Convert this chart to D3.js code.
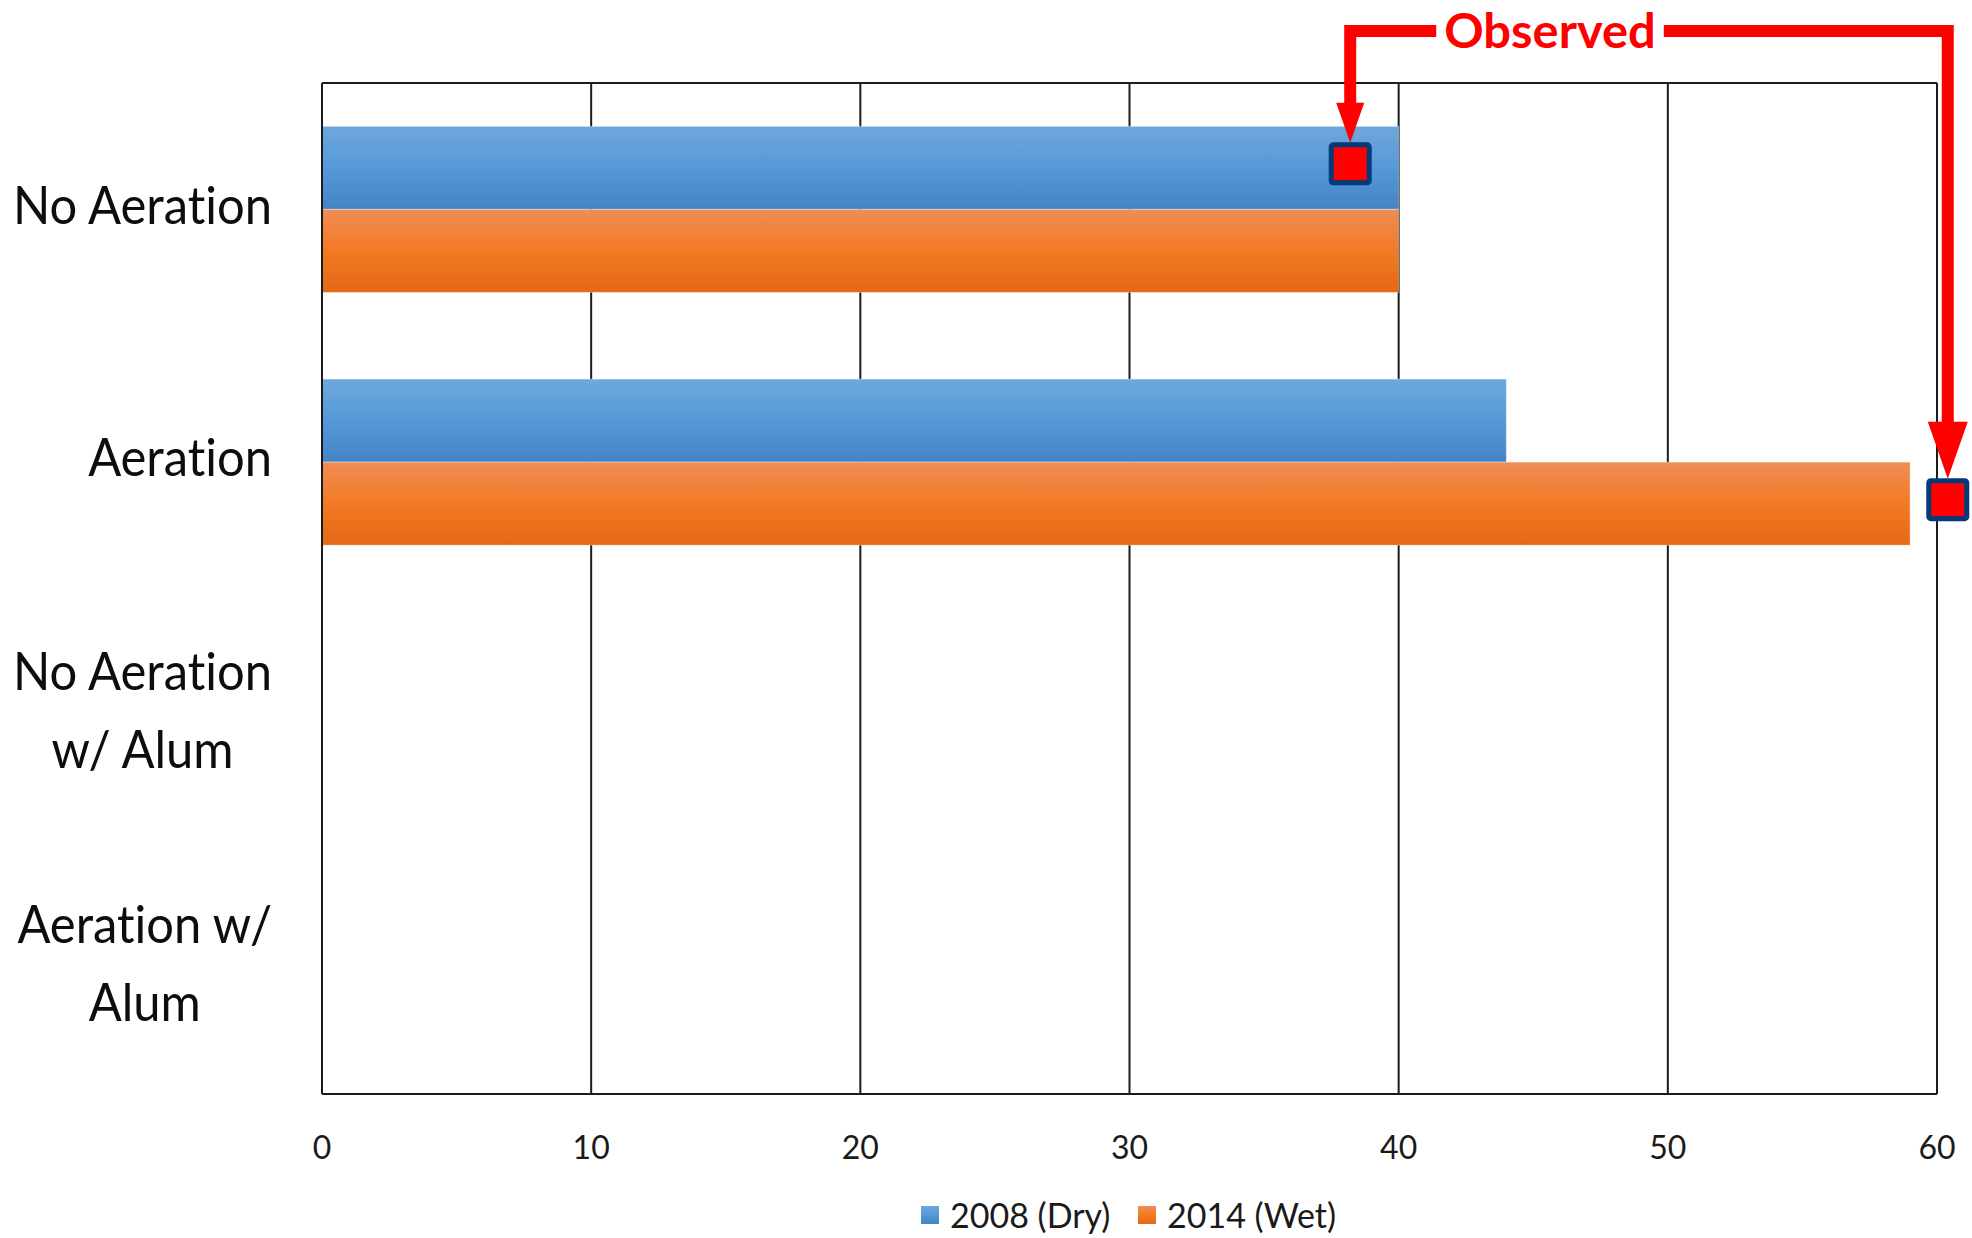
<!DOCTYPE html>
<html>
	<head>
		<meta charset="utf-8" />
		<title>Observed vs 2008 / 2014</title>
		<script src="https://cdn.jsdelivr.net/npm/d3@7"></script>
		<style>
			body {
				margin: 0;
				background: #fff;
			}
			svg {
				display: block;
				font-family: 'Lato', 'Open Sans', sans-serif;
				font-variant-ligatures: none;
			}
			.grid line {
				stroke: #1c1c1c;
				stroke-width: 2px;
			}
			.cat-label {
				font-size: 52px;
				fill: #0d0d0d;
			}
			.tick-label {
				font-size: 32px;
				fill: #1a1a1a;
			}
			.legend-label {
				font-size: 34px;
				fill: #1a1a1a;
			}
			.observed-label {
				font-size: 47px;
				font-weight: bold;
				fill: #ff0000;
			}
		</style>
	</head>
	<body>
		<svg id="chart"></svg>

		<script>
			// data
			const categories = ['No Aeration', 'Aeration', 'No Aeration w/ Alum', 'Aeration w/ Alum'];
			const categoryLines = [['No Aeration'], ['Aeration'], ['No Aeration', 'w/ Alum'], ['Aeration w/', 'Alum']];
			const series = ['2008 (Dry)', '2014 (Wet)'];
			const dry2008 = [40, 44, null, null];
			const wet2014 = [40, 59, null, null];
			const xTicks = [0, 10, 20, 30, 40, 50, 60];
			const observedCategory = ['No Aeration', 'Aeration'];
			const observedSeries = ['2008 (Dry)', '2014 (Wet)'];
			const observedValue = [38.2, 60.4];

			const width = 1972;
			const height = 1238;
			const plot = { left: 322, right: 1937, top: 83, bottom: 1094 };

			const svg = d3.select('#chart').attr('width', width).attr('height', height);

			const x = d3.scaleLinear().domain([0, 60]).range([plot.left, plot.right]);
			const y = d3
				.scaleBand()
				.domain(categories)
				.range([plot.top, plot.bottom])
				.paddingInner(0.343)
				.paddingOuter(0.1715);
			const ySub = d3.scaleBand().domain(series).range([0, y.bandwidth()]);

			const seriesValues = { '2008 (Dry)': dry2008, '2014 (Wet)': wet2014 };
			const gradients = {
				'2008 (Dry)': ['#6fa7dd', '#5599d9', '#4384c4'],
				'2014 (Wet)': ['#f08d57', '#f27a24', '#e46816'],
			};

			// gradients, Excel style
			const defs = svg.append('defs');
			series.forEach((s, i) => {
				const g = defs
					.append('linearGradient')
					.attr('id', 'grad' + i)
					.attr('x1', 0)
					.attr('y1', 0)
					.attr('x2', 0)
					.attr('y2', 1);
				gradients[s].forEach((c, j) => {
					g.append('stop')
						.attr('offset', j * 50 + '%')
						.attr('stop-color', c);
				});
			});

			// vertical grid + frame
			const grid = svg.append('g').attr('class', 'grid');
			grid.selectAll('line.v')
				.data(xTicks)
				.join('line')
				.attr('class', 'v')
				.attr('x1', (d) => x(d))
				.attr('x2', (d) => x(d))
				.attr('y1', plot.top)
				.attr('y2', plot.bottom);
			grid.append('line')
				.attr('x1', plot.left)
				.attr('x2', plot.right)
				.attr('y1', plot.top)
				.attr('y2', plot.top);
			grid.append('line')
				.attr('x1', plot.left)
				.attr('x2', plot.right)
				.attr('y1', plot.bottom)
				.attr('y2', plot.bottom);

			// bars
			const rows = [];
			categories.forEach((c, ci) => {
				series.forEach((s, si) => {
					const v = seriesValues[s][ci];
					if (v != null) rows.push({ c, s, si, v });
				});
			});

			svg.append('g')
				.selectAll('rect')
				.data(rows)
				.join('rect')
				.attr('x', x(0))
				.attr('y', (d) => y(d.c) + ySub(d.s))
				.attr('width', (d) => x(d.v) - x(0))
				.attr('height', ySub.bandwidth())
				.attr('fill', (d) => 'url(#grad' + d.si + ')')
				.attr('stroke', 'rgba(255,255,255,0.35)')
				.attr('stroke-width', 1);

			// left frame line over the bars
			svg.append('line')
				.attr('x1', x(0))
				.attr('x2', x(0))
				.attr('y1', plot.top)
				.attr('y2', plot.bottom)
				.attr('stroke', '#1c1c1c')
				.attr('stroke-width', 2);

			// squeeze text horizontally, the source font is narrow
			function squeeze(sel, k) {
				sel.each(function () {
					const w = this.getComputedTextLength();
					this.setAttribute('textLength', w * k);
					this.setAttribute('lengthAdjust', 'spacingAndGlyphs');
					this.__w = w * k;
				});
			}

			// category labels, block right aligned, lines centered
			const labelRight = 272;
			const lineGap = 78;
			categories.forEach((c, ci) => {
				const lines = categoryLines[ci];
				const cy = y(c) + y.bandwidth() / 2 - 4;
				const g = svg.append('g');
				const t = g
					.selectAll('text')
					.data(lines)
					.join('text')
					.attr('class', 'cat-label')
					.attr('text-anchor', 'middle')
					.attr('dy', '0.35em')
					.attr('y', (d, i) => cy + (i - (lines.length - 1) / 2) * lineGap)
					.text((d) => d);
				squeeze(t, 0.94);
				const maxW = d3.max(t.nodes(), (n) => n.__w);
				t.attr('x', labelRight - maxW / 2);
			});

			// x tick labels
			svg.append('g')
				.selectAll('text')
				.data(xTicks)
				.join('text')
				.attr('class', 'tick-label')
				.attr('text-anchor', 'middle')
				.attr('x', (d) => x(d))
				.attr('y', 1159)
				.text((d) => d);

			// legend
			const legend = svg.append('g');
			const legendX = [921, 1138];
			series.forEach((s, i) => {
				legend.append('rect')
					.attr('x', legendX[i])
					.attr('y', 1206)
					.attr('width', 18)
					.attr('height', 18)
					.attr('fill', 'url(#grad' + i + ')');
				legend.append('text')
					.attr('class', 'legend-label')
					.attr('x', legendX[i] + 29)
					.attr('y', 1228)
					.text(s);
			});

			// observed annotation
			const lineY = 31;
			const lineW = 12;
			const red = '#ff0000';
			const heads = [
				{ w: 28, h: 40 },
				{ w: 40, h: 57 },
			];
			const obsText = svg
				.append('text')
				.attr('class', 'observed-label')
				.attr('text-anchor', 'middle')
				.attr('x', 1550)
				.attr('y', 48)
				.text('Observed');
			squeeze(obsText, 1.04);
			const tw = obsText.node().__w;
			const textEnds = [1550 - tw / 2 - 8, 1550 + tw / 2 + 8];

			const marks = observedValue.map((v, i) => {
				const cy = y(observedCategory[i]) + ySub(observedSeries[i]) + ySub.bandwidth() / 2 - 4;
				return { cx: x(v), cy };
			});

			const arrows = svg.append('g');
			marks.forEach((m, i) => {
				const size = 42;
				const tipY = m.cy - size / 2;
				const head = heads[i];
				arrows.append('path')
					.attr('d', d3.line()([
						[textEnds[i], lineY],
						[m.cx, lineY],
						[m.cx, tipY - head.h + 2],
					]))
					.attr('fill', 'none')
					.attr('stroke', red)
					.attr('stroke-width', lineW)
					.attr('stroke-linejoin', 'miter');
				arrows.append('path')
					.attr('d', d3.line()([
						[m.cx - head.w / 2, tipY - head.h],
						[m.cx + head.w / 2, tipY - head.h],
						[m.cx, tipY],
					]) + 'Z')
					.attr('fill', red);
			});

			svg.append('g')
				.selectAll('rect')
				.data(marks)
				.join('rect')
				.attr('x', (d) => d.cx - 19)
				.attr('y', (d) => d.cy - 19)
				.attr('width', 38)
				.attr('height', 38)
				.attr('rx', 2)
				.attr('fill', red)
				.attr('stroke', '#003b7a')
				.attr('stroke-width', 5);
		</script>
	</body>
</html>
